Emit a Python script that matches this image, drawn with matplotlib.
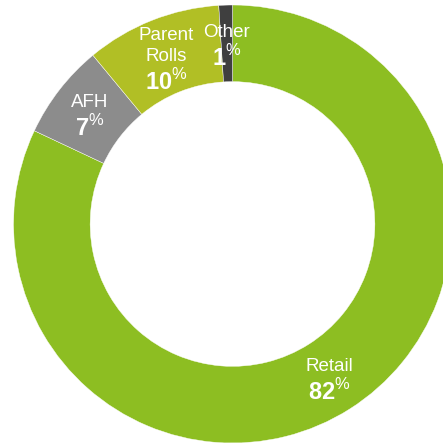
import numpy as np
import matplotlib
matplotlib.use("Agg")
import matplotlib.pyplot as plt

plt.rcParams['font.family'] = ['Liberation Sans', 'DejaVu Sans']
plt.rcParams['mathtext.fontset'] = 'custom'
plt.rcParams['mathtext.rm'] = 'Liberation Sans'
plt.rcParams['mathtext.bf'] = 'Liberation Sans:bold'

# segments, clockwise from 12 o'clock
names  = ["Retail", "AFH", "Parent\nRolls", "Other"]
shares = [82, 7, 10, 1]
colors = ["#8dbe22", "#8c8c8c", "#b1bf25", "#3f3f3f"]

W = 443
fig = plt.figure(figsize=(W/100, W/100), dpi=100)
ax = fig.add_axes([0, 0, 1, 1])

cx, cy = 232.5, W - 224   # donut centre in pixels
R  = 219
ring = 0.35

wedges, _ = ax.pie(shares, colors=colors, startangle=90, counterclock=False,
                   center=(cx, cy), radius=R,
                   wedgeprops=dict(width=R*ring, edgecolor='white', linewidth=0.3))

rmid = R*(1 - ring/2)
for w, name, val in zip(wedges, names, shares):
    ang = np.deg2rad((w.theta1 + w.theta2) / 2)
    x = cx + rmid*np.cos(ang)
    y = cy + rmid*np.sin(ang) - 11*name.count('\n')   # keep block centred
    ax.text(x, y + 2, name, ha='center', va='bottom', color='white',
            fontsize=13.5, linespacing=1.3)
    ax.text(x, y - 2, r'$\mathbf{%d}^{\mathrm{\%%}}$' % val, ha='center', va='top',
            color='white', fontsize=17)

ax.set_xlim(0, W)
ax.set_ylim(0, W)
ax.set_aspect('equal')
ax.axis('off')

fig.savefig("out.png", dpi=100)
